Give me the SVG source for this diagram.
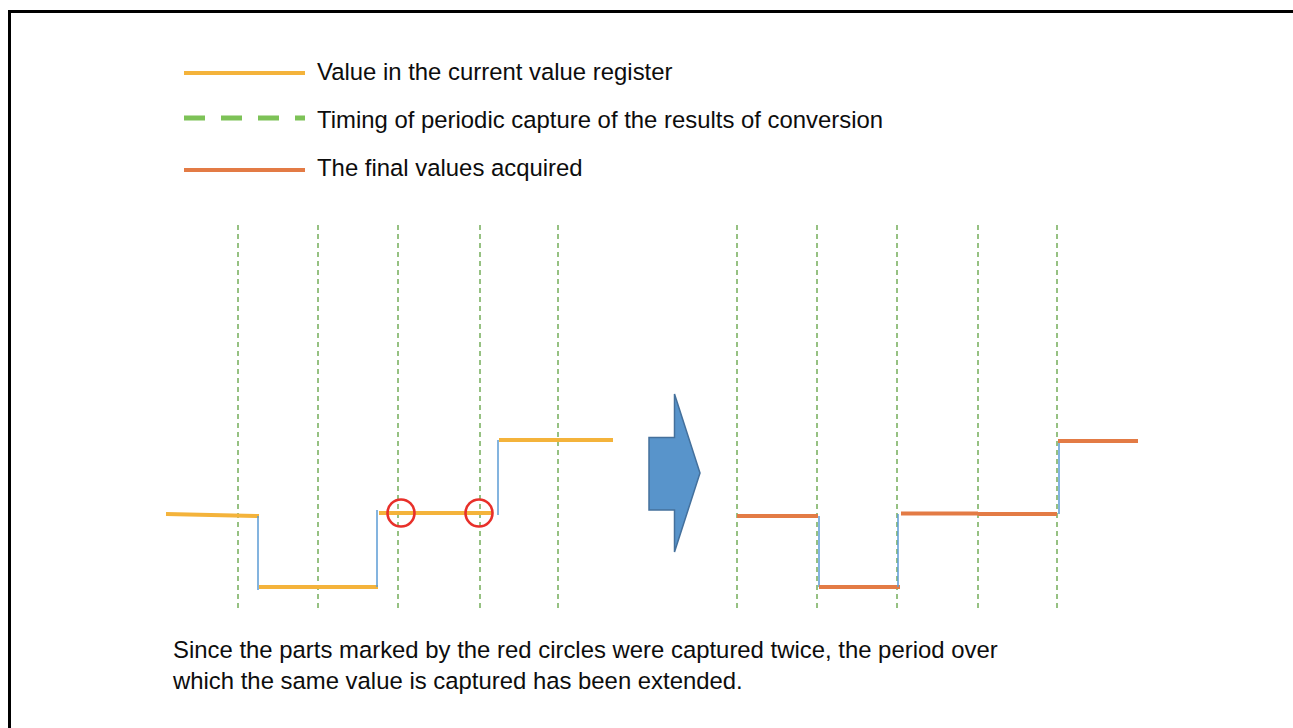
<svg xmlns="http://www.w3.org/2000/svg" width="1293" height="728" viewBox="0 0 1293 728">
<style>
text{font-family:"Liberation Sans",Arial,sans-serif;font-size:23.9px;fill:#0d0d0d}
.grid{stroke:#5FA040;stroke-width:1.3;stroke-dasharray:5 4;fill:none}
.val{stroke:#F4B33B;stroke-width:4;fill:none}
.fin{stroke:#E37B45;stroke-width:4;fill:none}
.edge{stroke:#5B9BD5;stroke-width:1.5;fill:none}
.circ{stroke:#E8302A;stroke-width:2.6;fill:none}
</style>
<rect x="0" y="0" width="1293" height="728" fill="#fff"/>
<rect x="9.5" y="11.5" width="1300" height="730" fill="none" stroke="#000" stroke-width="3"/>
<g id="legend">
<line x1="184" y1="73" x2="305" y2="73" class="val"/>
<text x="317" y="80">Value in the current value register</text>
<line x1="184" y1="118" x2="305" y2="118" stroke="#7DC257" stroke-width="5" stroke-dasharray="21 16"/>
<text x="317" y="128">Timing of periodic capture of the results of conversion</text>
<line x1="184" y1="170" x2="305" y2="170" class="fin"/>
<text x="317" y="176">The final values acquired</text>
</g>
<g id="grid-left">
<line x1="238" y1="225" x2="238" y2="608" class="grid"/>
<line x1="318" y1="225" x2="318" y2="608" class="grid"/>
<line x1="398" y1="225" x2="398" y2="608" class="grid"/>
<line x1="480" y1="225" x2="480" y2="608" class="grid"/>
<line x1="558" y1="225" x2="558" y2="608" class="grid"/>
</g>
<g id="grid-right">
<line x1="737" y1="225" x2="737" y2="608" class="grid"/>
<line x1="817" y1="225" x2="817" y2="608" class="grid"/>
<line x1="897" y1="225" x2="897" y2="608" class="grid"/>
<line x1="978" y1="225" x2="978" y2="608" class="grid"/>
<line x1="1057" y1="225" x2="1057" y2="608" class="grid"/>
</g>
<g id="register-value">
<line x1="166" y1="514" x2="259" y2="516" class="val"/>
<line x1="258" y1="516" x2="258" y2="590" class="edge"/>
<line x1="259" y1="587" x2="378" y2="587" class="val"/>
<line x1="377" y1="510" x2="377" y2="587" class="edge"/>
<line x1="379" y1="513" x2="492" y2="513" class="val"/>
<line x1="498" y1="440" x2="498" y2="515" class="edge"/>
<line x1="499" y1="440" x2="613" y2="440" class="val"/>
</g>
<g id="circles">
<circle cx="401" cy="513" r="13.5" class="circ"/>
<circle cx="479" cy="513" r="13.5" class="circ"/>
</g>
<g id="arrow">
<polygon points="649,437.5 674.5,437.5 674.5,394 700,473 674.5,552 674.5,510 649,510" fill="#5894CB" stroke="#44709C" stroke-width="1.5"/>
</g>
<g id="final-values">
<line x1="737" y1="516" x2="818" y2="516" class="fin"/>
<line x1="819" y1="516" x2="819" y2="587" class="edge"/>
<line x1="819" y1="587" x2="900" y2="587" class="fin"/>
<line x1="898" y1="514" x2="898" y2="587" class="edge"/>
<line x1="901" y1="513.5" x2="978" y2="513.5" class="fin"/>
<line x1="978" y1="514" x2="1057" y2="514" class="fin"/>
<line x1="1059" y1="441" x2="1059" y2="514" class="edge"/>
<line x1="1058" y1="441" x2="1138" y2="441" class="fin"/>
</g>
<g id="caption">
<text x="173" y="658">Since the parts marked by the red circles were captured twice, the period over</text>
<text x="173" y="689">which the same value is captured has been extended.</text>
</g>
</svg>
